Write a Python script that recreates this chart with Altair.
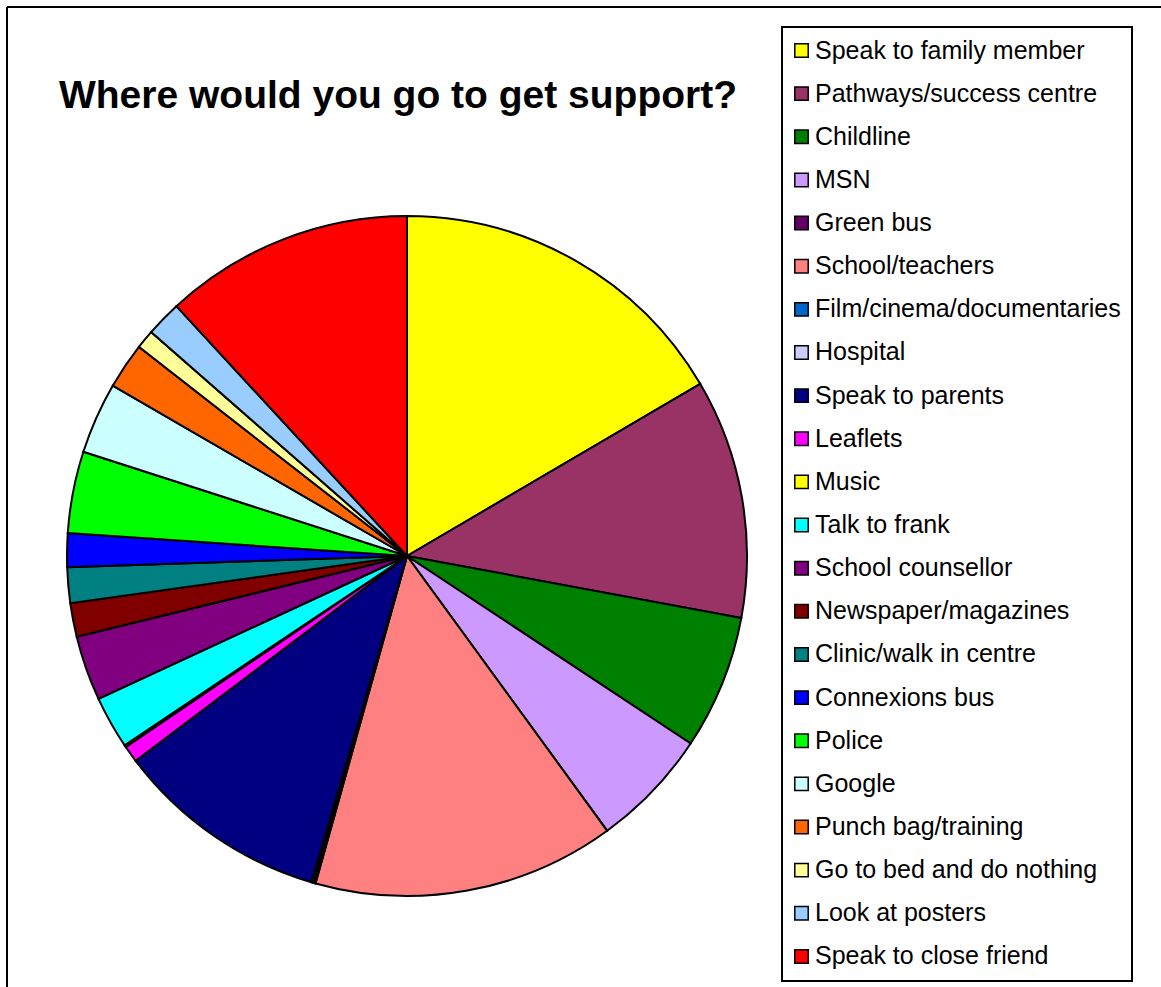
import altair as alt
import pandas as pd

title_text = "Where would you go to get support?"

categories = [
    "Speak to family member", "Pathways/success centre", "Childline", "MSN",
    "Green bus", "School/teachers", "Film/cinema/documentaries", "Hospital",
    "Speak to parents", "Leaflets", "Music", "Talk to frank",
    "School counsellor", "Newspaper/magazines", "Clinic/walk in centre",
    "Connexions bus", "Police", "Google", "Punch bag/training",
    "Go to bed and do nothing", "Look at posters", "Speak to close friend",
]
# estimated share (%) of each slice
values = [
    16.6, 11.4, 6.4, 5.7,
    0.0, 14.4, 0.1, 0.1,
    10.2, 0.8, 0.1, 2.5,
    3.1, 1.6, 1.7,
    1.6, 3.9, 3.4, 2.2,
    0.9, 1.7, 11.9,
]
colors = [
    "#FFFF00", "#993366", "#008000", "#CC99FF",
    "#660066", "#FF8080", "#0066CC", "#CCCCFF",
    "#000080", "#FF00FF", "#FFFF00", "#00FFFF",
    "#800080", "#800000", "#008080",
    "#0000FF", "#00FF00", "#CCFFFF", "#FF6600",
    "#FFFF99", "#99CCFF", "#FF0000",
]

df = pd.DataFrame({"category": categories, "value": values,
                   "order": list(range(len(categories)))})

pie = alt.Chart(df).mark_arc(radius=340, stroke="black", strokeWidth=2).encode(
    theta=alt.Theta("value:Q", stack=True),
    order=alt.Order("order:Q"),
    color=alt.Color(
        "category:N",
        scale=alt.Scale(domain=categories, range=colors),
        legend=alt.Legend(
            title=None, orient="none", legendX=782, legendY=27,
            strokeColor="black", fillColor="white", padding=11,
            symbolType="square", symbolSize=180, symbolStrokeColor="black",
            symbolStrokeWidth=1.5, symbolOpacity=1, symbolOffset=-4,
            labelFont="Liberation Sans", labelFontSize=25, labelColor="black",
            labelLimit=500, labelOffset=1, rowPadding=17.14,
        ),
    ),
    x=alt.value(407),
    y=alt.value(556),
)

title = alt.Chart(pd.DataFrame({"t": [title_text]})).mark_text(
    font="Liberation Sans", fontSize=39, fontWeight="bold", color="black",
    align="center", baseline="alphabetic",
).encode(text="t:N", x=alt.value(398), y=alt.value(108))

dummy = pd.DataFrame({"a": [0]})
top_rule = alt.Chart(dummy).mark_rule(color="black", strokeWidth=2).encode(
    x=alt.value(7), x2=alt.value(1161), y=alt.value(7))
left_rule = alt.Chart(dummy).mark_rule(color="black", strokeWidth=2).encode(
    x=alt.value(7), y=alt.value(7), y2=alt.value(987))

chart = alt.layer(pie, title, top_rule, left_rule).properties(
    width=1161, height=987, autosize="none", padding=0, background="white",
).configure_view(strokeWidth=0).configure_legend(strokeWidth=2)

chart.save("out.html", embed_options={"renderer": "svg", "actions": False})
